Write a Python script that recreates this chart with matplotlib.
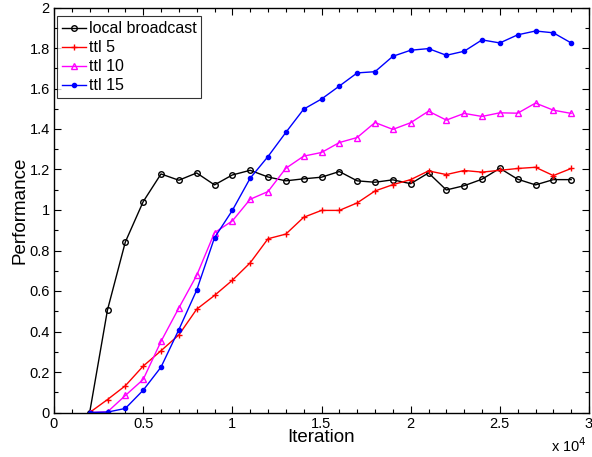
import matplotlib
matplotlib.use('Agg')
import matplotlib.pyplot as plt
from matplotlib.ticker import MultipleLocator, FuncFormatter

plt.rcParams['font.family'] = ['Liberation Sans', 'DejaVu Sans']

# iterations 2000 .. 29000
iterations = list(range(2000, 30000, 1000))

local_broadcast = [0.0, 0.507, 0.842, 1.041, 1.178, 1.147, 1.183, 1.124, 1.173, 1.196,
                   1.163, 1.144, 1.154, 1.162, 1.19, 1.144, 1.137, 1.149, 1.13, 1.183,
                   1.099, 1.12, 1.152, 1.206, 1.152, 1.124, 1.15, 1.15]
ttl5 = [0.0, 0.064, 0.132, 0.229, 0.305, 0.383, 0.51, 0.578, 0.653, 0.739,
        0.858, 0.881, 0.964, 0.998, 0.998, 1.035, 1.094, 1.125, 1.15, 1.193,
        1.175, 1.195, 1.187, 1.196, 1.205, 1.211, 1.17, 1.205]
ttl10 = [0.0, 0.003, 0.084, 0.163, 0.351, 0.516, 0.677, 0.888, 0.946, 1.053,
         1.091, 1.206, 1.266, 1.284, 1.333, 1.358, 1.432, 1.398, 1.431, 1.488,
         1.444, 1.477, 1.462, 1.48, 1.478, 1.528, 1.493, 1.477]
ttl15 = [0.0, 0.002, 0.02, 0.11, 0.224, 0.409, 0.604, 0.863, 0.998, 1.157,
         1.264, 1.383, 1.498, 1.548, 1.612, 1.677, 1.683, 1.759, 1.789, 1.797,
         1.764, 1.784, 1.84, 1.825, 1.865, 1.884, 1.875, 1.825]

fig = plt.figure(figsize=(5.92, 4.57), dpi=100)
ax = fig.add_axes([54 / 592, 1 - 412.5 / 457, 535 / 592, 405 / 457])

ax.plot(iterations, local_broadcast, color='black', marker='o', markersize=4,
        markerfacecolor='none', linewidth=1, label='local broadcast')
ax.plot(iterations, ttl5, color='red', marker='+', markersize=4,
        linewidth=1, label='ttl 5')
ax.plot(iterations, ttl10, color='magenta', marker='^', markersize=4.5,
        markerfacecolor='none', linewidth=1, label='ttl 10')
ax.plot(iterations, ttl15, color='blue', marker='.', markersize=6,
        linewidth=1, label='ttl 15')

ax.set_xlim(0, 30000)
ax.set_ylim(0, 2)
ax.xaxis.set_major_locator(MultipleLocator(5000))
ax.xaxis.set_minor_locator(MultipleLocator(1000))
ax.yaxis.set_major_locator(MultipleLocator(0.2))
ax.yaxis.set_minor_locator(MultipleLocator(0.1))
ax.xaxis.set_major_formatter(FuncFormatter(lambda v, p: '%g' % (v / 1e4)))
ax.yaxis.set_major_formatter(FuncFormatter(lambda v, p: '%g' % round(v, 1)))
ax.tick_params(which='both', direction='in', top=True, right=True, labelsize=10.5, pad=3)
ax.tick_params(which='major', length=5, width=0.8)
ax.tick_params(which='minor', length=3, width=0.8)
for s in ax.spines.values():
    s.set_linewidth(1)

ax.set_xlabel('Iteration', fontsize=13.5, labelpad=-1)
ax.set_ylabel('Performance', fontsize=13.5, labelpad=1)
ax.text(0.996, -0.0975, 'x 10$^4$', transform=ax.transAxes, ha='right', va='baseline', fontsize=10.5)

leg = ax.legend(loc='upper left', bbox_to_anchor=(3 / 535, 1 - 9 / 405),
                fontsize=11.5, frameon=True, fancybox=False,
                borderaxespad=0, handlelength=1.5, handletextpad=0.2,
                labelspacing=0.25, borderpad=0.3)
leg.get_frame().set_edgecolor('black')
leg.get_frame().set_linewidth(0.8)

fig.savefig('out.png', dpi=100)
